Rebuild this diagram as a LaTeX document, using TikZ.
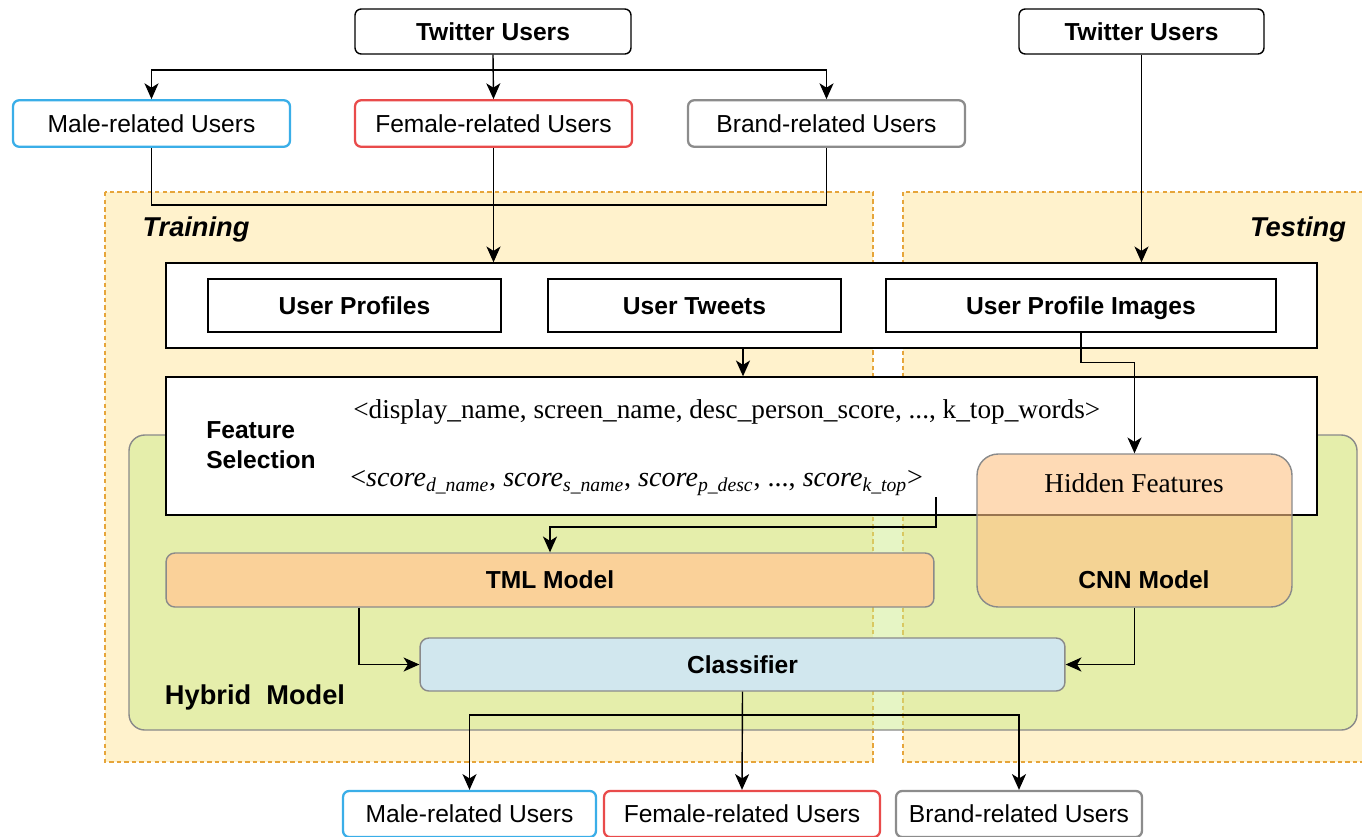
\documentclass[tikz,border=0pt]{standalone}
\usepackage{fontspec}
\setmainfont{Liberation Serif}
\setsansfont{Liberation Sans}
\usetikzlibrary{arrows.meta, calc}
\definecolor{maleblue}{HTML}{3AAEE8}
\definecolor{femalered}{HTML}{E94B4B}
\definecolor{brandgray}{HTML}{8C8C8C}
\definecolor{zonefill}{HTML}{FFF2CC}
\definecolor{zoneline}{HTML}{E6A53A}
\definecolor{hybridfill}{HTML}{CDEB8B}
\definecolor{tmlfill}{HTML}{FAD199}
\definecolor{cnnfill}{HTML}{FEC285}
\definecolor{clffill}{HTML}{D1E7EE}
\definecolor{edgegray}{HTML}{8A8A8A}

\begin{document}
\begin{tikzpicture}[
            x=0.02cm, y=-0.02cm,
            every node/.style={align=center, font=\sffamily\fontsize{14}{16.5}\selectfont},
            arr/.style={-{Stealth[length=9pt, width=8pt, inset=2.5pt]}, line width=0.8pt},
            line/.style={line width=0.8pt},
            userbox/.style={draw, fill=white, rounded corners=3.5pt, line width=1.3pt, minimum height=0.93cm, inner sep=0pt},
            srcbox/.style={draw, fill=white, rounded corners=3.5pt, line width=0.8pt, font=\sffamily\bfseries\fontsize{14}{16.5}\selectfont, minimum height=0.9cm, inner sep=0pt},
            plainbox/.style={draw, fill=white, line width=0.8pt, inner sep=0pt, text height=11pt, text depth=1pt},
            zone/.style={fill=zonefill, draw=zoneline, dashed, dash pattern=on 2.5pt off 1.8pt, line width=0.6pt},
            modelbox/.style={draw=edgegray, line width=0.8pt, rounded corners=5pt, inner sep=0pt, font=\sffamily\bfseries\fontsize{14}{16.5}\selectfont},
            zonelabel/.style={font=\sffamily\bfseries\itshape\fontsize{15.5}{18}\selectfont}
        ]
            \useasboundingbox (0,0) rectangle (1362,836);

            \draw[zone] (105,192) rectangle (873,762);
            \draw[zone] (903,192) rectangle (1364,762);
            \draw[draw=edgegray, line width=0.8pt, fill=hybridfill, fill opacity=0.5, rounded corners=9pt] (129,435) rectangle (1357,730);

            \node[zonelabel] (training) at (196,229) {Training};
            \node[zonelabel] (testing) at (1298,229) {Testing};
            \node[font=\sffamily\bfseries\fontsize{15.5}{18}\selectfont] (hybrid) at (255,697) {Hybrid\ \ Model};

            \node[srcbox, minimum width=5.52cm] (tw1) at (493,31.5) {Twitter Users};
            \node[srcbox, minimum width=4.9cm] (tw2) at (1141.5,31.5) {Twitter Users};

            \node[userbox, draw=maleblue, minimum width=5.54cm] (male1) at (151.5,123.5) {Male-related Users};
            \node[userbox, draw=femalered, minimum width=5.54cm] (female1) at (493.5,123.5) {Female-related Users};
            \node[userbox, draw=brandgray, minimum width=5.54cm] (brand1) at (826.5,123.5) {Brand-related Users};

            \node[plainbox, minimum width=23.02cm, minimum height=1.7cm] (data) at (741.5,305.5) {};
            \node[plainbox, minimum width=5.86cm, minimum height=1.06cm, font=\sffamily\bfseries\fontsize{14}{16.5}\selectfont] (profiles) at (354.5,305.5) {User Profiles};
            \node[plainbox, minimum width=5.86cm, minimum height=1.06cm, font=\sffamily\bfseries\fontsize{14}{16.5}\selectfont] (tweets) at (694.5,305.5) {User Tweets};
            \node[plainbox, minimum width=7.8cm, minimum height=1.06cm, font=\sffamily\bfseries\fontsize{14}{16.5}\selectfont] (images) at (1081,305.5) {User Profile Images};

            \node[plainbox, minimum width=23.02cm, minimum height=2.76cm] (feat) at (741.5,446) {};
            \node[font=\sffamily\bfseries\fontsize{14}{17}\selectfont, align=left] (featlabel) at (261,445) {Feature\\Selection};
            \node[anchor=west, font=\rmfamily\fontsize{15.5}{18}\selectfont, inner sep=0pt] (names) at (353,412) {<display\_name, screen\_name, desc\_person\_score, ..., k\_top\_words>};
            \node[anchor=west, font=\rmfamily\fontsize{16}{18}\selectfont, inner sep=0pt] (scores) at (350,483) {<\textit{score}\textsubscript{\textit{d\_name}}, \textit{score}\textsubscript{\textit{s\_name}}, \textit{score}\textsubscript{\textit{p\_desc}}, ..., \textit{score}\textsubscript{\textit{k\_top}}>};

            \node[modelbox, fill=cnnfill, fill opacity=0.6, text opacity=1, rounded corners=12pt, minimum width=6.3cm, minimum height=3.06cm] (cnn) at (1134.5,530.5) {};
            \node[font=\rmfamily\fontsize{15.5}{18}\selectfont] (hidden) at (1134,483) {Hidden Features};
            \node[font=\sffamily\bfseries\fontsize{14}{16.5}\selectfont] (cnnlabel) at (1144,580) {CNN Model};

            \node[modelbox, fill=tmlfill, minimum width=15.36cm, minimum height=1.08cm] (tml) at (550,580) {TML Model};
            \node[modelbox, fill=clffill, minimum width=12.9cm, minimum height=1.06cm] (clf) at (742.5,664.5) {Classifier};

            \node[userbox, draw=maleblue, minimum width=5.06cm, minimum height=0.92cm] (male2) at (469.5,814) {Male-related Users};
            \node[userbox, draw=femalered, minimum width=5.52cm, minimum height=0.92cm] (female2) at (742,814) {Female-related Users};
            \node[userbox, draw=brandgray, minimum width=4.92cm, minimum height=0.92cm] (brand2) at (1019,814) {Brand-related Users};

            \coordinate (split1) at (493,70);
            \coordinate (merge1) at (493,205);
            \coordinate (featend) at (936,497);
            \coordinate (split2) at (742,715);

            \draw[arr] (tw1.south) -- (female1.north);
            \draw[arr] (split1) -| (male1.north);
            \draw[arr] (split1) -| (brand1.north);
            \draw[line] (male1.south) |- (merge1) -| (brand1.south);
            \draw[arr] (female1.south) -- (female1.south |- data.north);
            \draw[arr] (tw2.south) -- (tw2.south |- data.north);
            \draw[arr] (data.south -| 743,0) -- (feat.north -| 743,0);
            \draw[arr] (images.south) -- ++(0,30) -| (cnn.north);
            \draw[arr] (featend) -- ++(0,30) -| (tml.north);
            \draw[arr] (tml.south -| 359,0) |- (clf.west);
            \draw[arr] (cnn.south) |- (clf.east);
            \draw[arr] (clf.south) -- (female2.north);
            \draw[arr] (split2) -| (male2.north);
            \draw[arr] (split2) -| (brand2.north);
        \end{tikzpicture}
\end{document}
